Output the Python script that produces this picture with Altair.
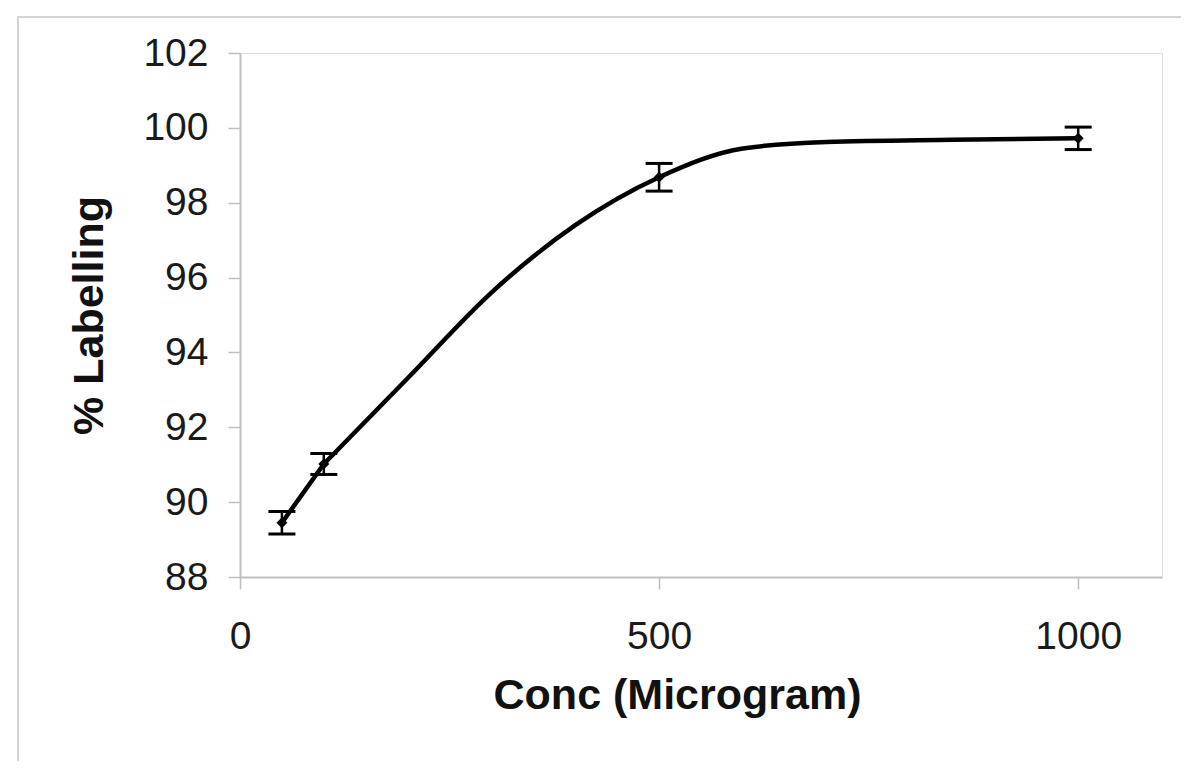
import altair as alt
import pandas as pd

# measured data points (markers + error bars)
conc = [50, 100, 500, 1000]
labelling = [89.45, 91.02, 98.68, 99.72]
err = [0.3, 0.28, 0.37, 0.3]

# trace of the smoothed line as drawn in the figure;
# the drawn line bends sharply at the 100 point, so it is traced in two pieces
curve_piece = ["a", "a", "b", "b", "b", "b", "b", "b", "b", "b", "b"]
curve_conc = [50, 100, 100, 200, 300, 400, 500, 600, 700, 850, 1000]
curve_pct = [89.45, 91.02, 91.02, 93.31, 95.6, 97.4, 98.68, 99.45, 99.62, 99.68, 99.72]

x_ticks = [0, 500, 1000]
y_ticks = [88, 90, 92, 94, 96, 98, 100, 102]

df = pd.DataFrame({
    "conc": conc,
    "lab": labelling,
    "lo": [v - e for v, e in zip(labelling, err)],
    "hi": [v + e for v, e in zip(labelling, err)],
})
curve_df = pd.DataFrame({"piece": curve_piece, "conc": curve_conc, "lab": curve_pct})

FONT = "Liberation Sans"

xscale = alt.Scale(domain=[0, 1100], nice=False, zero=False)
yscale = alt.Scale(domain=[88, 102], nice=False, zero=False)

xaxis = alt.Axis(
    title="Conc (Microgram)", values=x_ticks, format="d", grid=False,
    domainColor="#bfbfbf", domainWidth=2, tickColor="#bfbfbf", tickWidth=1.5, tickSize=12,
    labelFont=FONT, labelFontSize=39, labelColor="#1a1a1a", labelBaseline="alphabetic",
    labelPadding=59, labelFlush=False,
    titleFont=FONT, titleFontSize=43, titleFontWeight="bold", titleColor="#111111",
    titleX=437, titleY=131, titleBaseline="alphabetic", titleAlign="center",
)
yaxis = alt.Axis(
    title="% Labelling", values=y_ticks, grid=False,
    domainColor="#bfbfbf", domainWidth=2, tickColor="#bfbfbf", tickWidth=1.5, tickSize=12,
    labelFont=FONT, labelFontSize=39, labelColor="#1a1a1a", labelPadding=20,
    labelBaseline="middle", labelFlush=False,
    titleFont=FONT, titleFontSize=43, titleFontWeight="bold", titleColor="#111111",
    titleAngle=270, titleX=-138, titleY=262, titleBaseline="alphabetic", titleAlign="center",
)

base = alt.Chart(df)

frame = alt.Chart(pd.DataFrame({"a": [0]})).mark_rect(
    fill=None, stroke="#d4d4d4", strokeWidth=2
).encode(
    x=alt.value(-222), x2=alt.value(980), y=alt.value(-36), y2=alt.value(730)
)

line = alt.Chart(curve_df).mark_line(
    color="black", strokeWidth=4.5, interpolate="monotone", strokeJoin="round", strokeCap="round"
).encode(
    x=alt.X("conc:Q", scale=xscale, axis=xaxis),
    y=alt.Y("lab:Q", scale=yscale, axis=yaxis),
    detail="piece:N",
)

rules = base.mark_rule(color="black", strokeWidth=2.5).encode(
    x="conc:Q", y="lo:Q", y2="hi:Q"
)
cap_lo = base.mark_tick(color="black", orient="horizontal", size=27, thickness=3, opacity=1).encode(
    x="conc:Q", y="lo:Q"
)
cap_hi = base.mark_tick(color="black", orient="horizontal", size=27, thickness=3, opacity=1).encode(
    x="conc:Q", y="hi:Q"
)
points = base.mark_point(shape="diamond", filled=True, color="black", size=120, opacity=1).encode(
    x="conc:Q", y="lab:Q"
)

chart = alt.layer(frame, line, rules, cap_lo, cap_hi, points).properties(
    width=922, height=524,
    autosize=alt.AutoSizeParams(type="none"),
    padding={"left": 232, "top": 45, "right": 19, "bottom": 184},
).configure_view(stroke=None).configure(background="white")

chart.save("out.html", embed_options={"renderer": "svg", "actions": False})
